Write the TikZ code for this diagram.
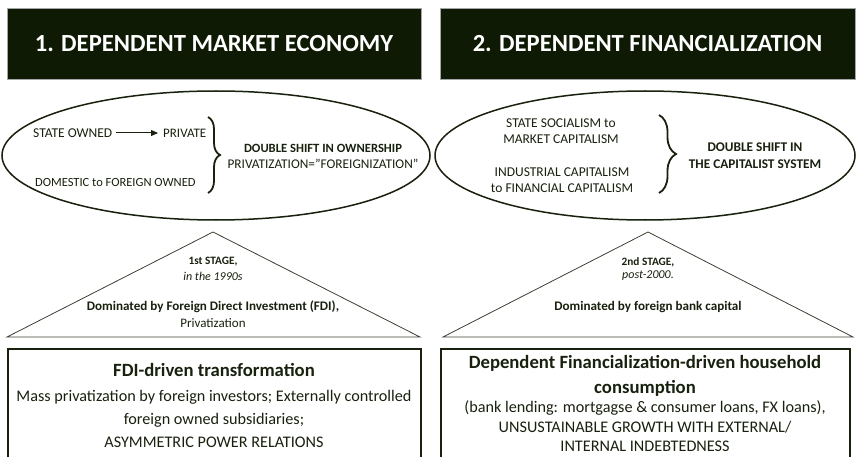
\documentclass[tikz,border=0pt]{standalone}
\usepackage{fontspec}
\setmainfont{Carlito}
\usetikzlibrary{arrows.meta,decorations.pathreplacing}
\definecolor{hdrfill}{RGB}{14,26,4}
\definecolor{ink}{RGB}{24,32,14}

\begin{document}
\begin{tikzpicture}[x=1pt,y=-1pt,
  header/.style={fill=hdrfill, draw=gray!70, line width=0.6pt, text=white,
    font=\fontsize{24.6}{30}\selectfont\bfseries, inner sep=0pt},
  ovalline/.style={draw=ink, line width=1.5pt},
  tri/.style={draw=ink!85, line width=0.8pt},
  boxline/.style={draw=ink, line width=2pt},
  small/.style={text=ink, inner sep=0pt, align=center,
    font=\fontsize{12.5}{16}\selectfont},
  mid/.style={small, font=\fontsize{13.5}{16}\selectfont},
  midbold/.style={small, font=\fontsize{13.3}{17}\selectfont\bfseries},
  stagebold/.style={small, font=\fontsize{11.3}{14}\selectfont\bfseries},
  stageit/.style={small, font=\fontsize{12}{14}\selectfont\itshape},
  trilabel/.style={small, font=\fontsize{13.1}{16}\selectfont\bfseries},
  boxtitle/.style={small, font=\fontsize{18.7}{22}\selectfont\bfseries},
  boxtext/.style={small, font=\fontsize{16.2}{19}\selectfont},
  bracestyle/.style={draw=ink, line width=1.8pt, decorate,
    decoration={brace, amplitude=#1}},
]
\clip (0,0) rectangle (856,457);
\useasboundingbox (0,0) rectangle (856,457);

% ---- headers
\node[header, minimum width=414pt, minimum height=71pt] (h1) at (214,43.5)
  {1. DEPENDENT MARKET ECONOMY};
\node[header, minimum width=415pt, minimum height=71pt] (h2) at (647.5,43.5)
  {2. DEPENDENT FINANCIALIZATION};

% ---- ovals
\draw[ovalline] (216,155.5) ellipse [x radius=214, y radius=64.5];
\draw[ovalline] (645,155.5) ellipse [x radius=210, y radius=64.5];

% left oval contents
\node[small, anchor=west, font=\fontsize{13.5}{16}\selectfont] (so1) at (33,133) {STATE OWNED};
\node[small, anchor=west, font=\fontsize{13}{16}\selectfont] (pr1) at (163,133) {PRIVATE};
\draw[ink, line width=1pt, -{Triangle[length=7pt,width=6pt]}]
  ([xshift=4pt]so1.east) -- ([xshift=-5pt]pr1.west);
\node[small, anchor=west] (dom1) at (35,182) {DOMESTIC to FOREIGN OWNED};
\coordinate (b1top) at (208,117);
\coordinate (b1bot) at (208,193);
\draw[bracestyle=12pt] (b1top) -- (b1bot);
\node[small, font=\fontsize{12.6}{16}\selectfont\bfseries] (ds1) at (323,148) {DOUBLE SHIFT IN OWNERSHIP};
\node[small, font=\fontsize{13.3}{16}\selectfont] (pf1) at (323,164) {PRIVATIZATION=”FOREIGNIZATION”};

% right oval contents
\node[mid] (ss2) at (561,131) {STATE SOCIALISM to\\MARKET CAPITALISM};
\node[mid] (ic2) at (562,180) {INDUSTRIAL CAPITALISM\\to FINANCIAL CAPITALISM};
\coordinate (b2top) at (659,115);
\coordinate (b2bot) at (659,193);
\draw[bracestyle=17pt] (b2top) -- (b2bot);
\node[midbold] (ds2) at (755,156) {DOUBLE SHIFT IN\\THE CAPITALIST SYSTEM};

% ---- stage triangles
\draw[tri] (7,337) -- (213,232) -- (420,337) -- cycle;
\draw[tri] (443,337) -- (648,232) -- (853,337) -- cycle;

\node[stagebold] (st1) at (213,262) {1st STAGE,};
\node[stageit] (yr1) at (213,276) {in the 1990s};
\node[trilabel] (dm1) at (213,307) {Dominated by Foreign Direct Investment (FDI),};
\node[small, font=\fontsize{13}{16}\selectfont] (pv1) at (213,323) {Privatization};

\node[stagebold] (st2) at (648,262) {2nd STAGE,};
\node[stageit] (yr2) at (648,276) {post-2000.};
\node[trilabel] (dm2) at (648,307) {Dominated by foreign bank capital};

% ---- bottom boxes
\draw[boxline] (8,349) rectangle (421,475);
\draw[boxline] (441,349) rectangle (850,475);

\node[boxtitle] (bt1) at (214,370) {FDI-driven transformation};
\node[boxtext] (bl1) at (214,397) {Mass privatization by foreign investors; Externally controlled};
\node[boxtext] (bl2) at (214,420) {foreign owned subsidiaries;};
\node[boxtext] (bl3) at (214,442) {ASYMMETRIC POWER RELATIONS};

\node[boxtitle] (bt2) at (645,363) {Dependent Financialization-driven household};
\node[boxtitle] (bt3) at (645,388) {consumption};
\node[boxtext] (bl4) at (645,408) {(bank lending: mortgagse \& consumer loans, FX loans),};
\node[boxtext] (bl5) at (645,427) {UNSUSTAINABLE GROWTH WITH EXTERNAL/};
\node[boxtext] (bl6) at (645,446) {INTERNAL INDEBTEDNESS};
\end{tikzpicture}
\end{document}
